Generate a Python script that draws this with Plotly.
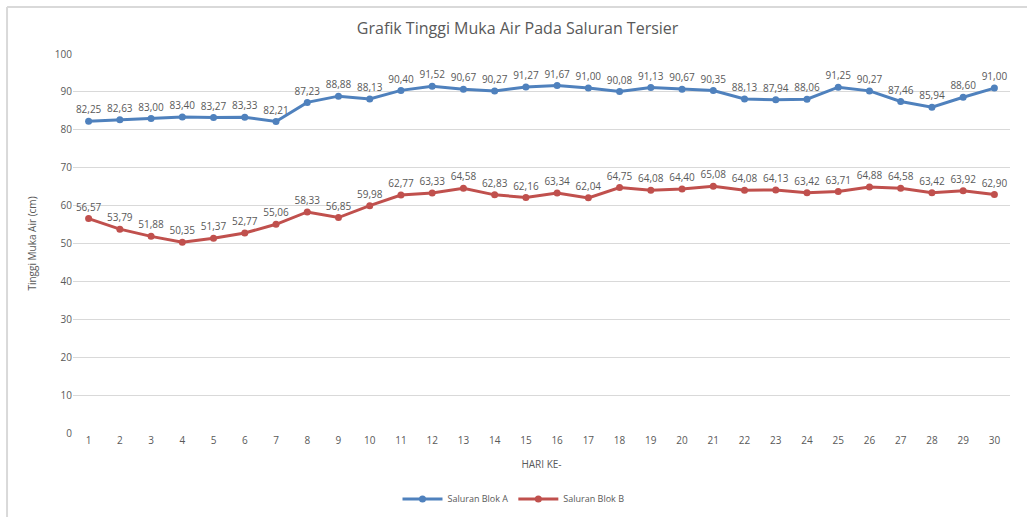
import plotly.graph_objects as go

days = list(range(1, 31))
blok_a = [82.25, 82.63, 83.00, 83.40, 83.27, 83.33, 82.21, 87.23, 88.88, 88.13,
          90.40, 91.52, 90.67, 90.27, 91.27, 91.67, 91.00, 90.08, 91.13, 90.67,
          90.35, 88.13, 87.94, 88.06, 91.25, 90.27, 87.46, 85.94, 88.60, 91.00]
blok_b = [56.57, 53.79, 51.88, 50.35, 51.37, 52.77, 55.06, 58.33, 56.85, 59.98,
          62.77, 63.33, 64.58, 62.83, 62.16, 63.34, 62.04, 64.75, 64.08, 64.40,
          65.08, 64.08, 64.13, 63.42, 63.71, 64.88, 64.58, 63.42, 63.92, 62.90]
series_names = ["Saluran Blok A", "Saluran Blok B"]
colors = ["#4F81BD", "#C0504D"]

font_family = "Open Sans, Lato, DejaVu Sans"
fig = go.Figure()
for name, vals, col in zip(series_names, [blok_a, blok_b], colors):
    fig.add_trace(go.Scatter(
        x=days, y=vals, name=name, mode="lines+markers+text",
        line=dict(color=col, width=3),
        marker=dict(color=col, size=7),
        texttemplate="%{y:.2f}", textposition="top center",
        textfont=dict(size=10, color="#595959", family=font_family),
        cliponaxis=False,
    ))

fig.update_layout(
    width=1027, height=517,
    margin=dict(l=73, r=17, t=54, b=84),
    paper_bgcolor="white", plot_bgcolor="white",
    separators=",.",
    font=dict(family=font_family, color="#595959"),
    title=dict(text="Grafik Tinggi Muka Air Pada Saluran Tersier",
               x=0.504, xanchor="center", y=0.945, yanchor="middle",
               font=dict(size=16, color="#595959", family=font_family)),
    xaxis=dict(type="category", tickmode="array", tickvals=days,
               ticktext=[str(d) for d in days], range=[-0.5, 29.5],
               showgrid=False, showline=False, ticks="", zeroline=False,
               tickfont=dict(size=10, color="#595959"), automargin=False,
               title=dict(text="HARI KE-", font=dict(size=10, color="#595959"), standoff=14)),
    yaxis=dict(range=[0, 100], dtick=10, showgrid=True, gridcolor="#D9D9D9",
               gridwidth=1, zeroline=False, showline=False, ticks="",
               tickfont=dict(size=10, color="#595959"), automargin=False,
               title=dict(text="Tinggi Muka Air (cm)", font=dict(size=10, color="#595959"), standoff=16)),
    legend=dict(orientation="h", x=0.5, xanchor="center", xref="container",
                y=0.035, yanchor="middle", yref="container",
                font=dict(size=9, color="#595959"), itemwidth=40),
    showlegend=True,
)
fig.add_shape(type="line", xref="paper", yref="paper", x0=-0.0704, x1=1.02, y0=1.124, y1=1.124,
              line=dict(color="#D9D9D9", width=2))
fig.add_shape(type="line", xref="paper", yref="paper", x0=-0.0704, x1=-0.0704, y0=1.124, y1=-0.25,
              line=dict(color="#D9D9D9", width=2))
fig.write_html("out.html", config={"displayModeBar": False},
               post_script="document.body.style.margin='0';document.body.style.overflow='hidden';")
